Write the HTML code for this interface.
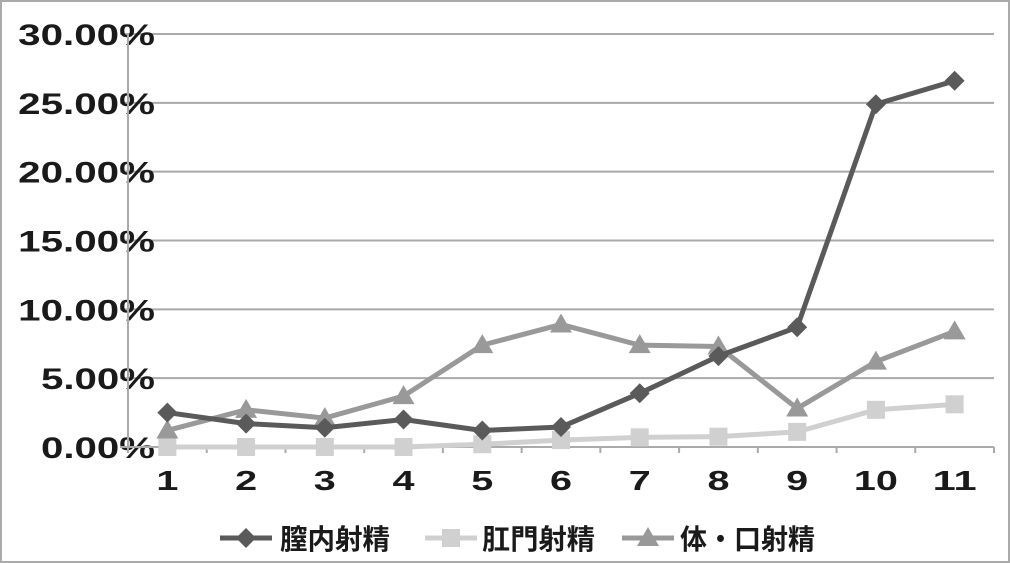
<!DOCTYPE html>
<html><head><meta charset="utf-8"><style>
body{margin:0;background:#fff;}
svg{display:block;}
text{font-family:"Liberation Sans","Noto Sans CJK JP",sans-serif;font-weight:bold;fill:#1a1a1a;}
</style></head><body>
<svg id="chart" width="1010" height="563" viewBox="0 0 1010 563">
<rect x="1" y="1" width="1008" height="561" fill="#fff" stroke="#aaa" stroke-width="2"/>
<g id="grid"></g><g id="axes"></g><g id="series"></g><g id="legend"></g>
</svg>
<script>
const categories=["1","2","3","4","5","6","7","8","9","10","11"];
const yTicks=[0,5,10,15,20,25,30];
const yTickLabels=["0.00%","5.00%","10.00%","15.00%","20.00%","25.00%","30.00%"];
const seriesNames=["膣内射精","肛門射精","体・口射精"];
const vaginal=[2.5,1.7,1.4,2.0,1.2,1.45,3.9,6.6,8.7,24.9,26.6];
const anal=[0,0,0,0,0.2,0.5,0.7,0.75,1.1,2.7,3.1];
const bodyOral=[1.2,2.7,2.1,3.7,7.4,8.9,7.4,7.3,2.8,6.2,8.4];

const NS="http://www.w3.org/2000/svg";
const L=128,R=994,T=34,B=447,YMAX=30;
const band=(R-L)/categories.length;
const xs=i=>L+band*(i+0.5);
const ys=v=>B-(v/YMAX)*(B-T);
function mk(tag,attrs,parent){const e=document.createElementNS(NS,tag);for(const k in attrs)e.setAttribute(k,attrs[k]);parent.appendChild(e);return e;}
const grid=document.getElementById('grid'),axes=document.getElementById('axes'),ser=document.getElementById('series'),leg=document.getElementById('legend');

yTicks.forEach((t,i)=>{
  const y=ys(t);
  if(t>0){const g=mk('line',{x1:120,x2:R,y1:y,y2:y,stroke:'#aaa','stroke-width':2},grid);
  
  }
  const lab=yTickLabels[i];
  const tx=mk('text',{x:155,y:y+11,'font-size':30,'text-anchor':'end',textLength:lab.length*22.8,lengthAdjust:'spacingAndGlyphs'},axes);
  tx.textContent=lab;
  
  
});
const va=mk('line',{x1:L,x2:L,y1:T,y2:B,stroke:'#aaa','stroke-width':2},axes);


const ha=mk('line',{x1:120,x2:R,y1:B,y2:B,stroke:'#aaa','stroke-width':2},axes);


for(let i=0;i<=categories.length;i++){
  const x=L+band*i;
  const tk=mk('line',{x1:x,x2:x,y1:B,y2:B+6,stroke:'#aaa','stroke-width':2},axes);
  
  
}
categories.forEach((c,i)=>{
  const tx=mk('text',{x:xs(i),y:490,'font-size':28,'text-anchor':'middle',textLength:c.length*22,lengthAdjust:'spacingAndGlyphs'},axes);
  tx.textContent=c;
  
  
});

function marker(type,x,y,color,parent){
  let m;
  if(type==='diamond')m=mk('polygon',{points:`${x},${y-10} ${x+10},${y} ${x},${y+10} ${x-10},${y}`,fill:color},parent);
  else if(type==='square')m=mk('rect',{x:x-9,y:y-9,width:18,height:18,fill:color},parent);
  else m=mk('polygon',{points:`${x},${y-11} ${x+11},${y+8} ${x-11},${y+8}`,fill:color},parent);
  return m;
}
const defs=[[anal,'#d0d0d0','square','series-anal'],[bodyOral,'#999','triangle','series-body-oral'],[vaginal,'#5a5a5a','diamond','series-vaginal']];
defs.forEach(([data,color,type,name])=>{
  const g=mk('g',{},ser);
  
  
  const pl=mk('polyline',{points:data.map((v,i)=>xs(i)+','+ys(v)).join(' '),fill:'none',stroke:color,'stroke-width':5,'stroke-linejoin':'round'},g);
  
  
  data.forEach((v,i)=>{const m=marker(type,xs(i),ys(v),color,g);
    
    });
});

const legItems=[[220,'#5a5a5a','diamond',280,110],[425,'#d0d0d0','square',482,113],[622,'#999','triangle',680,135]];
legItems.forEach(([x0,color,type,tx,tw],k)=>{
  const g=mk('g',{},leg);
  
  
  mk('line',{x1:x0,x2:x0+52,y1:538,y2:538,stroke:color,'stroke-width':5},g);
  marker(type,x0+26,538,color,g);
  const t=mk('text',{x:tx,y:549,'font-size':28,textLength:tw,lengthAdjust:'spacingAndGlyphs'},g);
  t.textContent=seriesNames[k];
  
  
});
</script>
</body></html>
